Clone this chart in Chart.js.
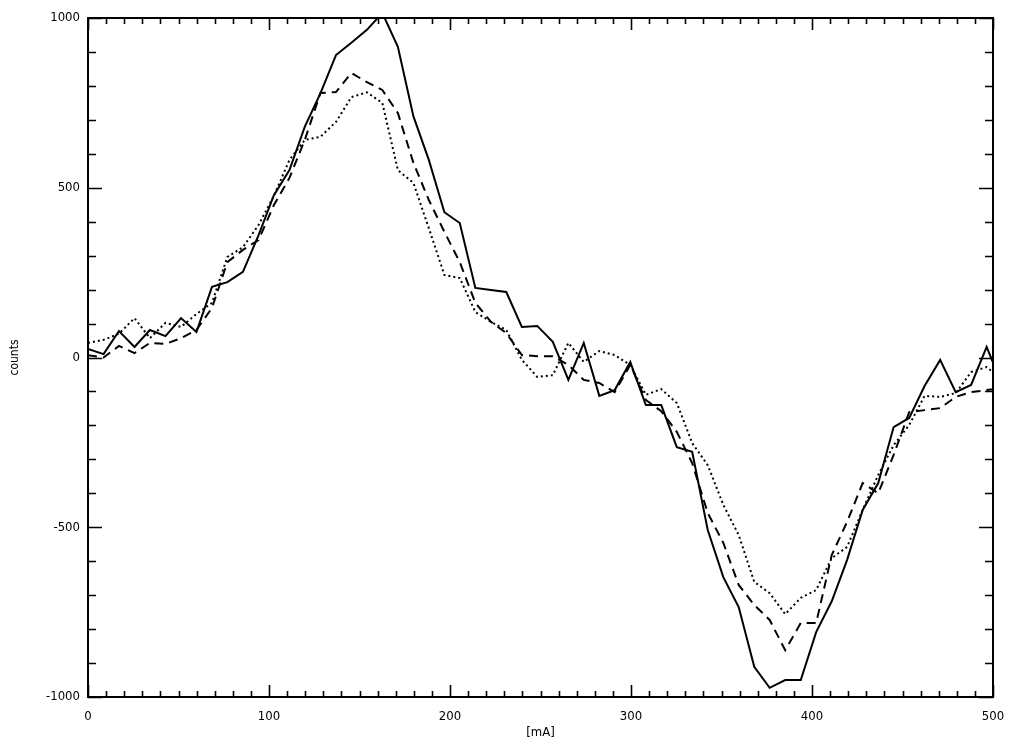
<!DOCTYPE html>
<html>
<head>
<meta charset="utf-8">
<script src="https://cdn.jsdelivr.net/npm/chart.js@4.4.1/dist/chart.umd.min.js"></script>
<style>
  html, body { margin: 0; padding: 0; background: #fff; }
  canvas { display: block; }
</style>
</head>
<body>
<canvas id="plot" width="1019" height="747"></canvas>
<script>
// current in mA (shared sample grid, last point runs past the axis and is clipped)
const currents = [
  0, 8.6, 17.1, 25.7, 34.2, 42.8, 51.4, 59.9, 68.5, 77.0,
  85.6, 94.2, 102.7, 111.3, 119.8, 128.4, 137.0, 145.5, 154.1, 162.6,
  171.2, 179.8, 188.3, 196.9, 205.4, 214.0, 222.6, 231.1, 239.7, 248.2,
  256.8, 265.4, 273.9, 282.5, 291.0, 299.6, 308.2, 316.7, 325.3, 333.8,
  342.4, 351.0, 359.5, 368.1, 376.6, 385.2, 393.8, 402.3, 410.9, 419.4,
  428.0, 436.6, 445.1, 453.7, 462.2, 470.8, 479.4, 487.9, 496.5, 505.0
];

const solidCounts = [
  25, 10, 78, 31, 81, 63, 116, 75, 208, 222,
  252, 360, 478, 552, 680, 778, 891, 927, 965, 1015,
  915, 710, 582, 428, 396, 205, 199, 193, 90, 93,
  46, -66, 43, -113, -96, -13, -140, -140, -264, -278,
  -508, -647, -735, -911, -973, -950, -950, -809, -718, -596,
  -449, -370, -205, -178, -84, -7, -102, -81, 31, -80
];

const dashedCounts = [
  7, 0, 34, 13, 43, 40, 57, 81, 146, 281,
  317, 346, 449, 529, 641, 779, 782, 838, 811, 788,
  720, 573, 464, 370, 281, 161, 105, 72, 7, 4,
  4, -22, -66, -75, -102, -22, -125, -158, -219, -311,
  -458, -546, -670, -729, -773, -862, -782, -782, -582, -484,
  -370, -400, -287, -161, -155, -149, -116, -102, -96, -90
];

const dottedCounts = [
  43, 52, 70, 116, 57, 102, 90, 128, 161, 296,
  325, 390, 476, 582, 641, 650, 694, 767, 781, 750,
  552, 514, 381, 243, 234, 134, 105, 81, -7, -57,
  -52, 43, -13, 19, 7, -22, -110, -93, -134, -252,
  -317, -434, -523, -661, -694, -756, -708, -685, -591, -558,
  -449, -346, -258, -199, -113, -116, -105, -43, -28, -66
];

const X_MIN = 0, X_MAX = 500, X_MAJOR = 100, X_MINOR = 10;
const Y_MIN = -1000, Y_MAX = 1000, Y_MAJOR = 500, Y_MINOR = 100;

const toPoints = (ys) => currents.map((x, i) => ({ x: x, y: ys[i] }));

const FONT = '"Liberation Sans Narrow", "DejaVu Sans Condensed", "Liberation Sans", Arial, sans-serif';

// IDL style frame: box round the plot, ticks pointing inwards on all four sides
const frameTicks = {
  id: 'frameTicks',
  afterDatasetsDraw(chart) {
    const { ctx, chartArea: a, scales: { x, y } } = chart;
    ctx.save();
    ctx.strokeStyle = '#000';
    ctx.lineWidth = 2;
    ctx.strokeRect(a.left, a.top, a.right - a.left, a.bottom - a.top);

    ctx.lineWidth = 1.6;
    ctx.beginPath();
    const nx = Math.round((X_MAX - X_MIN) / X_MINOR);
    for (let i = 0; i <= nx; i++) {
      const v = X_MIN + i * X_MINOR;
      const px = Math.round(x.getPixelForValue(v)) + 0.5;
      const len = (v % X_MAJOR === 0) ? 12 : 6;
      ctx.moveTo(px, a.bottom); ctx.lineTo(px, a.bottom - len);
      ctx.moveTo(px, a.top); ctx.lineTo(px, a.top + len);
    }
    const ny = Math.round((Y_MAX - Y_MIN) / Y_MINOR);
    for (let i = 0; i <= ny; i++) {
      const v = Y_MIN + i * Y_MINOR;
      const py = Math.round(y.getPixelForValue(v)) + 0.5;
      const len = (v % Y_MAJOR === 0) ? 14 : 8;
      ctx.moveTo(a.left, py); ctx.lineTo(a.left + len, py);
      ctx.moveTo(a.right, py); ctx.lineTo(a.right - len, py);
    }
    ctx.stroke();
    ctx.restore();
  }
};

new Chart(document.getElementById('plot'), {
  type: 'line',
  data: {
    datasets: [
      {
        label: 'solid',
        data: toPoints(solidCounts),
        borderColor: '#000',
        borderWidth: 2,
        pointRadius: 0,
        tension: 0
      },
      {
        label: 'dashed',
        data: toPoints(dashedCounts),
        borderColor: '#000',
        borderWidth: 2,
        borderDash: [9, 6],
        pointRadius: 0,
        tension: 0
      },
      {
        label: 'dotted',
        data: toPoints(dottedCounts),
        borderColor: '#000',
        borderWidth: 2,
        borderDash: [2, 3],
        pointRadius: 0,
        tension: 0
      }
    ]
  },
  options: {
    responsive: false,
    animation: false,
    devicePixelRatio: 1,
    layout: { padding: { left: 0, right: 26, top: 18, bottom: 0 } },
    plugins: {
      legend: { display: false },
      tooltip: { enabled: false }
    },
    scales: {
      x: {
        type: 'linear',
        min: X_MIN,
        max: X_MAX,
        afterFit: (s) => { s.height = 50; },
        grid: { display: false },
        border: { display: false },
        ticks: {
          stepSize: X_MAJOR,
          padding: 4,
          color: '#000',
          maxRotation: 0,
          font: { family: FONT, size: 13 },
          callback: (v) => String(v)
        },
        title: {
          display: true,
          text: '[mA]',
          color: '#000',
          padding: { top: 0, bottom: 7 },
          font: { family: FONT, size: 13 }
        }
      },
      y: {
        type: 'linear',
        min: Y_MIN,
        max: Y_MAX,
        afterFit: (s) => { s.width = 88; },
        grid: { display: false },
        border: { display: false },
        ticks: {
          stepSize: Y_MAJOR,
          padding: 0,
          color: '#000',
          font: { family: FONT, size: 13 },
          callback: (v) => String(v)
        },
        title: {
          display: true,
          text: 'counts',
          color: '#000',
          padding: { top: 8, bottom: 0 },
          font: { family: FONT, size: 12 }
        }
      }
    }
  },
  plugins: [frameTicks]
});
</script>
</body>
</html>
